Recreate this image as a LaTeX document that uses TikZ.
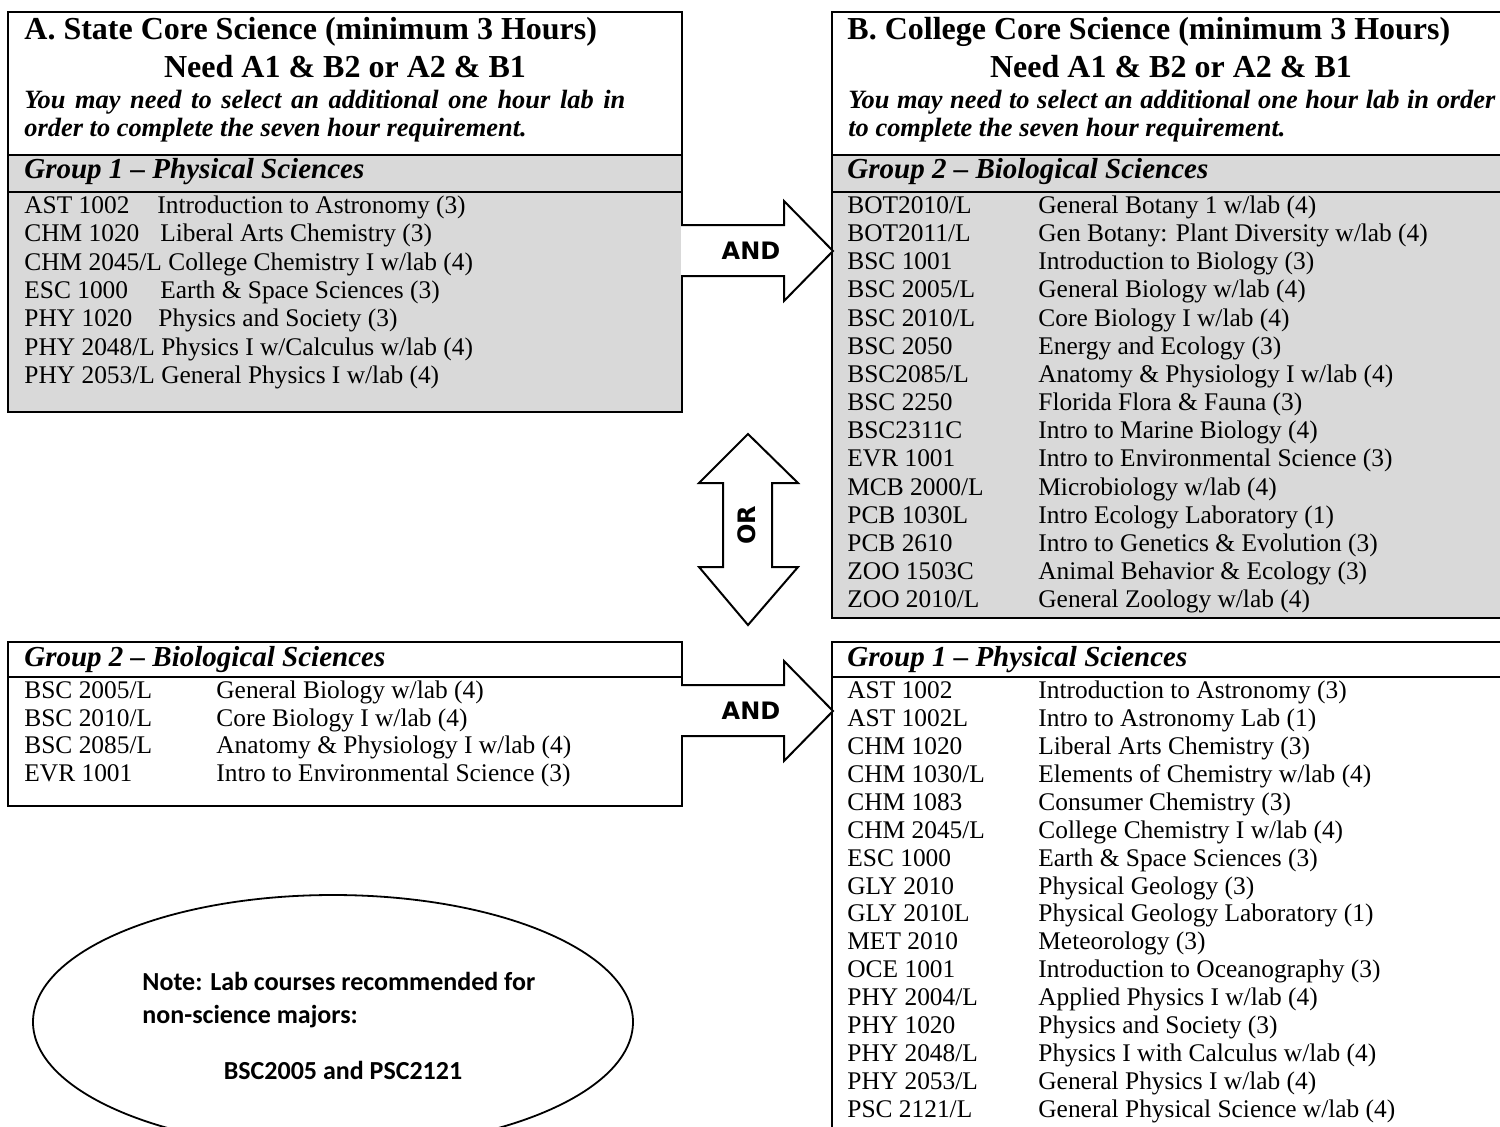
\documentclass[tikz,border=0pt]{standalone}
\usepackage{fontspec}
\setmainfont{Liberation Serif}
\newfontfamily\arrowfont{DejaVu Sans}
\newfontfamily\notefont{Carlito}
\definecolor{boxgray}{RGB}{217,217,217}
\newcommand{\courseline}[6]{%
  \node[course] (#1c) at (#2,#4) {#5};
  \node[course] (#1d) at (#3,#4) {#6};}
\newcommand{\courseone}[4]{%
  \node[course] (#1c) at (#2,#3) {#4};}
\begin{document}
\begin{tikzpicture}[x=0.5pt,y=-0.5pt,
  course/.style={anchor=west,inner sep=0pt,text height=0.7em,text depth=0.2em,font=\fontsize{12.7}{14}\selectfont},
  ttl/.style={anchor=west,inner sep=0pt,font=\fontsize{16}{18}\selectfont\bfseries},
  ttlc/.style={inner sep=0pt,font=\fontsize{16}{18}\selectfont\bfseries},
  ital/.style={anchor=west,inner sep=0pt,font=\fontsize{13.2}{15}\selectfont\bfseries\itshape},
  grp/.style={anchor=west,inner sep=0pt,font=\fontsize{14.5}{16}\selectfont\bfseries\itshape},
  boxline/.style={line width=1pt},
  blockarrow/.style={draw=black,fill=white,line width=1pt,line join=miter},
  arrowtext/.style={inner sep=0pt,font=\fontsize{12}{14}\selectfont\arrowfont\bfseries},
  notetext/.style={inner sep=0pt,font=\fontsize{13}{15}\selectfont\notefont\bfseries}]
\clip (0,0) rectangle (1500,1126);
\fill[white] (0,0) rectangle (1500,1126);

% ---------- Box A ----------
\fill[boxgray] (8,155) rectangle (682,412);
\draw[boxline] (8,12) rectangle (682,412);
\draw[boxline] (8,155) -- (682,155);
\draw[boxline] (8,192) -- (682,192);
\node[ttl] (aT1) at (24,32) {A. State Core Science (minimum 3 Hours)};
\node[ttlc] (aT2) at (345,67) {Need A1 \& B2 or A2 \& B1};
\node[ital] (aT3) at (24,102) {\makebox[300.5pt][s]{You may need to select an additional one hour lab in}};
\node[ital] (aT4) at (24,130) {order to complete the seven hour requirement.};
\node[grp] (aG) at (24,172) {Group 1 -- Physical Sciences};
\courseline{a1}{24}{157}{208}{AST 1002}{Introduction to Astronomy (3)}
\courseline{a2}{24}{160}{236}{CHM 1020}{Liberal Arts Chemistry (3)}
\courseone{a3}{24}{265}{CHM 2045/L College Chemistry I w/lab (4)}
\courseline{a4}{24}{160}{293}{ESC 1000}{Earth \& Space Sciences (3)}
\courseline{a5}{24}{158}{321}{PHY 1020}{Physics and Society (3)}
\courseone{a6}{24}{350}{PHY 2048/L Physics I w/Calculus w/lab (4)}
\courseone{a7}{24}{378}{PHY 2053/L General Physics I w/lab (4)}

% ---------- Box B ----------
\fill[boxgray] (832,155) rectangle (1504,618);
\draw[boxline] (832,12) rectangle (1504,618);
\draw[boxline] (832,155) -- (1504,155);
\draw[boxline] (832,192) -- (1504,192);
\node[ttl] (bT1) at (847,32) {B. College Core Science (minimum 3 Hours)};
\node[ttlc] (bT2) at (1171,67) {Need A1 \& B2 or A2 \& B1};
\node[ital] (bT3) at (848,102) {\makebox[323.5pt][s]{You may need to select an additional one hour lab in order}};
\node[ital] (bT4) at (848,130) {to complete the seven hour requirement.};
\node[grp] (bG) at (847,172) {Group 2 -- Biological Sciences};
\courseline{b1}{847}{1038}{208}{BOT2010/L}{General Botany 1 w/lab (4)}
\courseline{b2}{847}{1038}{236}{BOT2011/L}{Gen Botany: Plant Diversity w/lab (4)}
\courseline{b3}{847}{1038}{264}{BSC 1001}{Introduction to Biology (3)}
\courseline{b4}{847}{1038}{292}{BSC 2005/L}{General Biology w/lab (4)}
\courseline{b5}{847}{1038}{321}{BSC 2010/L}{Core Biology I w/lab (4)}
\courseline{b6}{847}{1038}{349}{BSC 2050}{Energy and Ecology (3)}
\courseline{b7}{847}{1038}{377}{BSC2085/L}{Anatomy \& Physiology I w/lab (4)}
\courseline{b8}{847}{1038}{405}{BSC 2250}{Florida Flora \& Fauna (3)}
\courseline{b9}{847}{1038}{433}{BSC2311C}{Intro to Marine Biology (4)}
\courseline{b10}{847}{1038}{461}{EVR 1001}{Intro to Environmental Science (3)}
\courseline{b11}{847}{1038}{490}{MCB 2000/L}{Microbiology w/lab (4)}
\courseline{b12}{847}{1038}{518}{PCB 1030L}{Intro Ecology Laboratory (1)}
\courseline{b13}{847}{1038}{546}{PCB 2610}{Intro to Genetics \& Evolution (3)}
\courseline{b14}{847}{1038}{574}{ZOO 1503C}{Animal Behavior \& Ecology (3)}
\courseline{b15}{847}{1038}{602}{ZOO 2010/L}{General Zoology w/lab (4)}

% ---------- Bottom-left box ----------
\draw[boxline] (8,642) rectangle (682,806);
\draw[boxline] (8,677) -- (682,677);
\node[grp] (cG) at (24,660) {Group 2 -- Biological Sciences};
\courseline{c1}{24}{216}{693}{BSC 2005/L}{General Biology w/lab (4)}
\courseline{c2}{24}{216}{721}{BSC 2010/L}{Core Biology I w/lab (4)}
\courseline{c3}{24}{216}{748}{BSC 2085/L}{Anatomy \& Physiology I w/lab (4)}
\courseline{c4}{24}{216}{776}{EVR 1001}{Intro to Environmental Science (3)}

% ---------- Bottom-right box ----------
\draw[boxline] (832,642) rectangle (1504,1140);
\draw[boxline] (832,677) -- (1504,677);
\node[grp] (dG) at (847,660) {Group 1 -- Physical Sciences};
\courseline{d1}{847}{1038}{693}{AST 1002}{Introduction to Astronomy (3)}
\courseline{d2}{847}{1038}{721}{AST 1002L}{Intro to Astronomy Lab (1)}
\courseline{d3}{847}{1038}{749}{CHM 1020}{Liberal Arts Chemistry (3)}
\courseline{d4}{847}{1038}{777}{CHM 1030/L}{Elements of Chemistry w/lab (4)}
\courseline{d5}{847}{1038}{805}{CHM 1083}{Consumer Chemistry (3)}
\courseline{d6}{847}{1038}{833}{CHM 2045/L}{College Chemistry I w/lab (4)}
\courseline{d7}{847}{1038}{861}{ESC 1000}{Earth \& Space Sciences (3)}
\courseline{d8}{847}{1038}{889}{GLY 2010}{Physical Geology (3)}
\courseline{d9}{847}{1038}{916}{GLY 2010L}{Physical Geology Laboratory (1)}
\courseline{d10}{847}{1038}{944}{MET 2010}{Meteorology (3)}
\courseline{d11}{847}{1038}{972}{OCE 1001}{Introduction to Oceanography (3)}
\courseline{d12}{847}{1038}{1000}{PHY 2004/L}{Applied Physics I w/lab (4)}
\courseline{d13}{847}{1038}{1028}{PHY 1020}{Physics and Society (3)}
\courseline{d14}{847}{1038}{1056}{PHY 2048/L}{Physics I with Calculus w/lab (4)}
\courseline{d15}{847}{1038}{1084}{PHY 2053/L}{General Physics I w/lab (4)}
\courseline{d16}{847}{1038}{1112}{PSC 2121/L}{General Physical Science w/lab (4)}

% ---------- Block arrows ----------
\draw[blockarrow] (681,225) -- (784,225) -- (784,201) -- (833,251) -- (784,301) -- (784,276) -- (681,276);
\node[arrowtext] (and1) at (751,251) {AND};
\draw[blockarrow] (681,685) -- (784,685) -- (784,661) -- (833,711) -- (784,761) -- (784,736) -- (681,736);
\node[arrowtext] (and2) at (751,711) {AND};
\draw[blockarrow] (748,434) -- (798,483) -- (772,483) -- (772,567) -- (798,567) -- (748,625) -- (699,567) -- (723,567) -- (723,483) -- (699,483) -- cycle;
\node[arrowtext,rotate=90] (or) at (747,525) {OR};

% ---------- Note ellipse ----------
\draw[line width=0.9pt] (333,1022) ellipse [x radius=300, y radius=127];
\node[notetext,anchor=west] (n1) at (142,981) {Note: Lab courses recommended for};
\node[notetext,anchor=west] (n2) at (142,1017) {non-science majors:};
\node[notetext] (n3) at (343,1070) {BSC2005 and PSC2121};
\end{tikzpicture}
\end{document}
